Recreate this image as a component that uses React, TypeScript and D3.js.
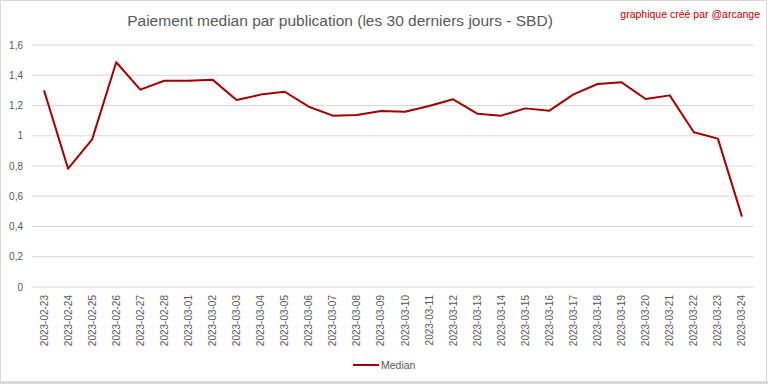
import React from 'react';
import * as d3 from 'd3';

const dates = [
  '2023-02-23', '2023-02-24', '2023-02-25', '2023-02-26', '2023-02-27', '2023-02-28',
  '2023-03-01', '2023-03-02', '2023-03-03', '2023-03-04', '2023-03-05', '2023-03-06',
  '2023-03-07', '2023-03-08', '2023-03-09', '2023-03-10', '2023-03-11', '2023-03-12',
  '2023-03-13', '2023-03-14', '2023-03-15', '2023-03-16', '2023-03-17', '2023-03-18',
  '2023-03-19', '2023-03-20', '2023-03-21', '2023-03-22', '2023-03-23', '2023-03-24',
];

const median = [
  1.30, 0.782, 0.976, 1.486, 1.305, 1.364,
  1.364, 1.371, 1.236, 1.272, 1.291, 1.192,
  1.133, 1.137, 1.164, 1.159, 1.197, 1.241,
  1.146, 1.133, 1.181, 1.166, 1.274, 1.342,
  1.353, 1.243, 1.267, 1.023, 0.981, 0.465,
];

const yTicks = [0, 0.2, 0.4, 0.6, 0.8, 1, 1.2, 1.4, 1.6];

const W = 768;
const H = 384;
const plot = { left: 32, right: 754, top: 45, bottom: 287 };
const font = '"Liberation Sans", Arial, sans-serif';
const grey = '#595959';
const lineColor = '#a00000';

export default function App() {
  const x = d3.scaleBand<string>().domain(dates).range([plot.left, plot.right]).padding(0);
  const y = d3.scaleLinear().domain([0, 1.6]).range([plot.bottom, plot.top]);
  const cx = (d: string) => (x(d) ?? 0) + x.bandwidth() / 2;

  const line = d3.line<number>()
    .x((_, i) => cx(dates[i]))
    .y((v) => y(v));

  // French decimal comma on the value axis
  const fmt = (v: number) => d3.format('~g')(+v.toFixed(1)).replace('.', ',');

  return (
    <svg width={W} height={H} style={{ position: 'absolute', left: 0, top: 0, background: '#fff' }}>
      <rect x={0.5} y={0.5} width={W - 2} height={H - 3} fill="#fff" stroke="#d9d9d9" />
      <rect x={0} y={H - 3} width={W} height={3} fill="#d9d9d9" />

      <text x={340} y={26} textAnchor="middle" fontFamily={font} fontSize={15.5} fill={grey}>
        Paiement median par publication (les 30 derniers jours - SBD)
      </text>
      <text x={760} y={18} textAnchor="end" fontFamily={font} fontSize={10.5} fill="#c00000">
        graphique créé par @arcange
      </text>

      {yTicks.map((t) => (
        <g key={t}>
          <line x1={plot.left} x2={plot.right} y1={y(t)} y2={y(t)} stroke="#d9d9d9" strokeWidth={1} />
          <text x={23} y={y(t)} dy="0.35em" textAnchor="end" fontFamily={font} fontSize={10} fill={grey}>
            {fmt(t)}
          </text>
        </g>
      ))}

      {dates.map((d) => (
        <text
          key={d}
          transform={`translate(${cx(d) + 3.5},${plot.bottom + 8}) rotate(-90)`}
          textAnchor="end"
          fontFamily={font}
          fontSize={10}
          fill={grey}
        >
          {d}
        </text>
      ))}

      <path d={line(median) ?? ''} fill="none" stroke={lineColor} strokeWidth={2} strokeLinejoin="round" />

      <line x1={353} x2={379} y1={365} y2={365} stroke={lineColor} strokeWidth={2} />
      <text x={381} y={365} dy="0.35em" fontFamily={font} fontSize={10.5} fill={grey}>
        Median
      </text>
    </svg>
  );
}
